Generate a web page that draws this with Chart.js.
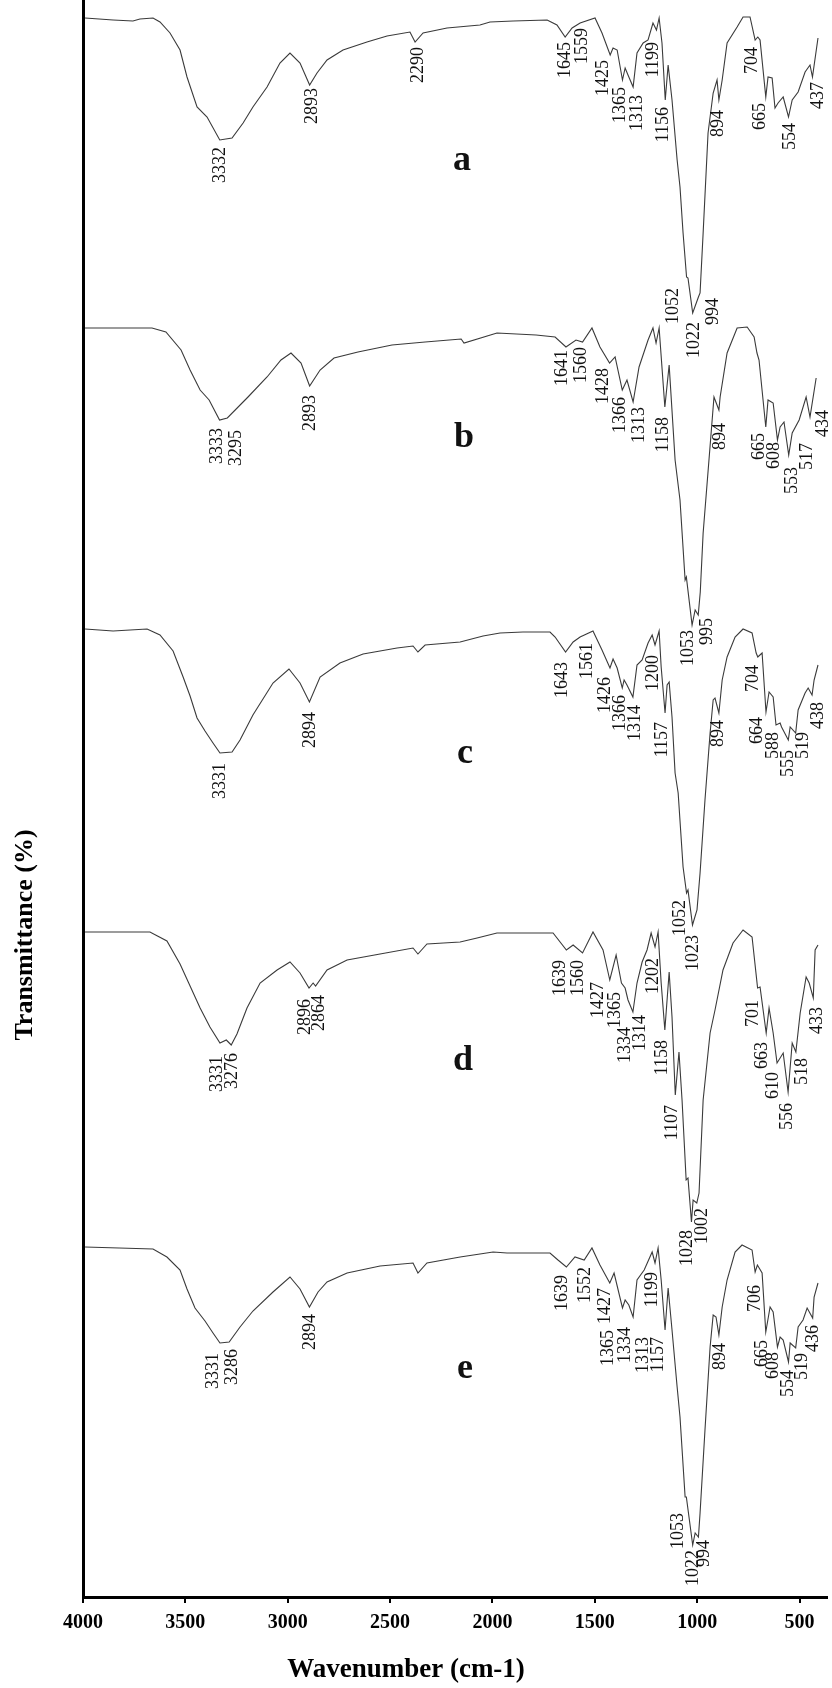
<!DOCTYPE html>
<html>
<head>
<meta charset="utf-8">
<title>FTIR spectra a-e</title>
<script src="https://cdn.jsdelivr.net/npm/chart.js@4.4.1/dist/chart.umd.min.js"></script>
<style>
  html, body { margin: 0; padding: 0; background: #fff; }
  #wrap { width: 832px; height: 1688px; }
</style>
</head>
<body>
<div id="wrap"><canvas id="ftir" width="832" height="1688"></canvas></div>
<script>
// x ticks (cm-1)
const tickValues = [4000, 3500, 3000, 2500, 2000, 1500, 1000, 500];

// spectra as [wavenumber, transmittance] with each trace shifted down for stacking
const spectrumA = [
  [3990,157.9],[3853,157.7],[3756,157.6],[3722,157.8],[3658,157.9],[3624,157.5],[3575,156.4],[3526,154.7],
  [3492,152.0],[3443,149.0],[3394,148.0],[3332,145.7],[3272,145.9],[3218,147.4],[3170,149.0],[3101,151.0],
  [3038,153.4],[2989,154.4],[2940,153.4],[2893,151.2],[2857,152.4],[2808,153.7],[2730,154.7],[2613,155.5],
  [2515,156.1],[2403,156.5],[2378,155.5],[2339,156.4],[2222,156.9],[2061,157.2],[2012,157.5],[1899,157.6],
  [1733,157.7],[1685,157.2],[1645,156.0],[1611,156.9],[1572,157.4],[1499,157.9],[1465,156.4],[1425,154.2],
  [1411,154.9],[1391,154.7],[1365,151.7],[1352,152.9],[1338,152.2],[1313,151.0],[1294,154.4],[1264,155.4],
  [1240,155.7],[1216,157.4],[1199,156.7],[1186,157.9],[1172,155.4],[1156,149.7],[1142,153.2],[1123,149.7],
  [1098,143.7],[1084,141.0],[1069,136.4],[1052,132.0],[1045,131.9],[1022,128.4],[994,130.0],[986,130.4],
  [971,136.4],[947,146.4],[922,150.4],[903,151.7],[894,149.7],[878,151.7],[854,155.4],[805,157.0],
  [776,158.0],[742,158.0],[717,155.7],[704,156.0],[693,155.7],[665,150.0],[654,152.0],[634,151.9],
  [620,148.9],[605,149.4],[580,150.0],[554,148.0],[536,149.7],[507,150.5],[473,152.5],[449,153.2],
  [437,152.0],[410,155.9]
];
const spectrumB = [
  [3990,126.9],[3663,126.9],[3595,126.5],[3521,124.7],[3477,122.7],[3428,120.7],[3384,119.7],[3333,117.7],
  [3295,117.9],[3194,120.0],[3101,122.0],[3033,123.7],[2984,124.4],[2935,123.4],[2893,121.1],[2842,122.7],
  [2774,123.9],[2657,124.5],[2491,125.2],[2329,125.5],[2153,125.8],[2139,125.4],[1978,126.4],[1787,126.2],
  [1694,126.0],[1641,125.0],[1592,125.7],[1560,125.5],[1514,126.9],[1475,125.0],[1428,123.4],[1401,124.0],
  [1366,120.7],[1343,121.7],[1313,119.5],[1284,123.0],[1240,125.7],[1216,126.9],[1201,125.4],[1186,126.9],
  [1158,119.0],[1137,123.2],[1108,113.7],[1084,109.7],[1059,101.7],[1053,102.0],[1025,97.2],[1010,98.7],
  [995,98.2],[985,100.5],[971,106.4],[932,116.4],[918,120.0],[894,118.7],[888,120.0],[854,124.4],
  [805,126.9],[756,127.0],[722,126.0],[708,124.4],[698,123.7],[665,117.0],[654,119.7],[629,119.4],
  [608,115.7],[595,117.0],[576,117.5],[553,114.2],[536,116.4],[502,117.7],[468,120.0],[449,118.0],
  [419,121.9]
];
const spectrumC = [
  [3990,96.8],[3853,96.6],[3687,96.8],[3624,96.2],[3560,94.6],[3511,92.0],[3477,90.1],[3443,87.9],
  [3404,86.6],[3365,85.4],[3331,84.4],[3272,84.5],[3233,85.7],[3170,88.2],[3072,91.4],[2994,92.8],
  [2940,91.4],[2894,89.5],[2842,92.0],[2745,93.4],[2632,94.3],[2466,94.9],[2388,95.1],[2364,94.5],
  [2329,95.2],[2158,95.5],[2046,96.1],[1963,96.4],[1851,96.5],[1719,96.5],[1694,96.0],[1643,94.5],
  [1606,95.5],[1572,96.0],[1509,96.6],[1465,94.7],[1426,92.9],[1411,93.8],[1391,92.9],[1366,90.9],
  [1357,91.7],[1343,91.2],[1314,90.0],[1294,93.2],[1269,93.7],[1240,95.4],[1220,96.2],[1206,95.2],
  [1186,96.6],[1176,93.0],[1157,88.4],[1147,91.2],[1137,91.5],[1123,88.0],[1108,82.4],[1093,80.4],
  [1069,73.0],[1052,70.4],[1045,70.7],[1023,67.2],[1001,68.7],[986,72.4],[962,79.7],[937,86.4],
  [922,89.7],[913,89.9],[894,88.4],[878,91.7],[854,94.0],[815,96.0],[776,96.8],[732,96.4],
  [712,94.4],[704,94.0],[683,94.4],[664,88.5],[649,90.5],[629,90.0],[615,87.2],[595,87.4],
  [588,87.0],[555,85.7],[546,87.0],[519,86.4],[507,88.7],[473,90.4],[458,90.9],[439,90.2],
  [429,91.7],[410,93.2]
];
const spectrumD = [
  [3990,66.5],[3673,66.5],[3590,65.6],[3526,63.3],[3477,61.1],[3428,58.9],[3380,57.0],[3331,55.4],
  [3300,55.7],[3276,55.2],[3248,56.3],[3199,58.9],[3135,61.4],[3052,62.7],[2989,63.5],[2940,62.4],
  [2896,60.9],[2876,61.4],[2864,61.1],[2808,62.7],[2710,63.7],[2549,64.3],[2388,64.9],[2364,64.3],
  [2320,65.3],[2158,65.5],[2075,65.9],[1978,66.4],[1704,66.4],[1639,64.7],[1606,65.2],[1560,64.4],
  [1509,66.5],[1460,64.7],[1427,61.7],[1396,64.2],[1370,61.4],[1352,60.9],[1338,59.7],[1314,58.5],
  [1294,61.4],[1269,63.5],[1245,64.7],[1225,66.4],[1206,65.0],[1191,66.5],[1176,61.4],[1158,56.7],
  [1137,62.5],[1123,58.0],[1107,50.2],[1089,54.5],[1074,49.7],[1054,41.7],[1045,41.9],[1028,37.5],
  [1020,39.7],[1002,39.4],[991,40.4],[971,49.7],[937,56.4],[913,58.7],[874,62.7],[825,65.4],
  [776,66.7],[732,66.0],[705,60.9],[693,61.0],[663,56.4],[649,58.9],[629,56.4],[610,53.4],
  [580,54.4],[556,50.5],[536,55.4],[518,54.5],[497,58.4],[468,62.0],[453,61.4],[433,59.9],
  [424,64.7],[410,65.2]
];
const spectrumE = [
  [3990,35.0],[3658,34.8],[3590,34.0],[3526,32.7],[3492,30.8],[3453,28.9],[3404,27.6],[3365,26.4],
  [3331,25.4],[3286,25.5],[3233,27.0],[3170,28.6],[3072,30.5],[2989,32.0],[2940,30.8],[2894,29.0],
  [2852,30.5],[2808,31.5],[2710,32.4],[2549,33.1],[2388,33.4],[2364,32.4],[2320,33.4],[2158,34.0],
  [2061,34.3],[1997,34.5],[1929,34.4],[1719,34.4],[1680,33.7],[1639,33.0],[1597,34.0],[1552,33.7],
  [1514,34.9],[1475,33.2],[1427,31.4],[1406,32.4],[1365,28.9],[1352,29.7],[1334,29.2],[1313,28.0],
  [1294,31.7],[1259,32.7],[1220,34.5],[1206,33.4],[1191,34.9],[1176,31.7],[1157,26.7],[1142,30.9],
  [1123,26.7],[1098,21.0],[1084,18.0],[1059,10.0],[1053,10.0],[1022,5.2],[1010,6.4],[994,6.0],
  [986,8.4],[962,16.7],[937,25.0],[922,28.2],[908,28.0],[894,26.2],[878,29.0],[854,31.7],
  [815,34.5],[781,35.2],[732,34.7],[717,32.5],[706,33.2],[683,32.4],[665,26.5],[644,29.0],
  [629,28.5],[608,25.0],[595,26.0],[580,25.7],[554,23.5],[546,25.4],[519,24.9],[507,27.0],
  [483,27.7],[463,28.9],[436,27.9],[429,30.0],[410,31.4]
];

// peak labels: [text, wavenumber under which it is centred, top end of the rotated text]
const peaksA = [
  ['3332',3331,145.0],['2893',2881,150.9],['2290',2364,155.0],['1645',1645,155.5],['1559',1562,156.9],
  ['1425',1460,153.7],['1365',1377,151.0],['1313',1294,150.2],['1199',1216,155.5],['1156',1167,149.0],
  ['1052',1118,130.9],['1022',1015,127.5],['994',922,129.9],['894',898,148.7],['704',732,155.0],
  ['665',693,149.4],['554',546,147.4],['437',410,151.5]
];
const peaksB = [
  ['3333',3345,116.9],['3295',3253,116.7],['2893',2891,120.2],['1641',1660,124.7],['1560',1567,125.0],
  ['1428',1460,122.9],['1366',1377,120.0],['1313',1284,119.0],['1158',1167,118.0],['1053',1045,96.7],
  ['995',952,97.9],['894',888,117.4],['665',698,116.4],['608',624,115.5],['553',536,113.0],
  ['517',463,115.4],['434',385,118.7]
];
const peaksC = [
  ['3331',3331,83.4],['2894',2891,88.5],['1643',1660,93.5],['1561',1538,95.4],['1426',1450,92.0],
  ['1366',1377,90.2],['1314',1303,89.2],['1200',1216,94.2],['1157',1172,87.5],['1052',1084,69.7],
  ['1023',1020,66.2],['894',898,87.7],['704',727,93.2],['664',707,88.0],['588',629,86.5],
  ['555',556,84.7],['519',483,86.5],['438',410,89.5]
];
const peaksD = [
  ['3331',3345,54.1],['3276',3272,54.4],['2896',2913,59.8],['2864',2847,60.2],['1639',1670,63.7],
  ['1560',1582,63.7],['1427',1484,61.5],['1365',1401,60.5],['1334',1352,57.0],['1314',1279,58.2],
  ['1202',1216,63.9],['1158',1172,55.7],['1107',1123,49.2],['1028',1049,36.7],['1002',976,38.9],
  ['701',727,59.7],['663',683,55.5],['610',629,52.5],['556',561,49.4],['518',488,53.9],['433',414,59.0]
];
const peaksE = [
  ['3331',3365,24.4],['3286',3272,24.8],['2894',2891,28.3],['1639',1660,32.2],['1552',1548,33.0],
  ['1427',1450,30.9],['1365',1435,26.7],['1334',1352,27.0],['1313',1264,26.0],['1157',1191,26.0],
  ['1199',1220,32.5],['1053',1093,8.4],['1022',1020,4.7],['994',966,5.7],['894',888,25.4],
  ['706',717,31.2],['665',683,25.7],['608',629,24.5],['554',556,22.7],['519',488,24.4],['436',434,27.2]
];

// sample letters and where they sit (baseline)
const sampleNames = ['a', 'b', 'c', 'd', 'e'];
const sampleWn = [2149, 2139, 2134, 2144, 2134];
const sampleT = [142.7, 115.0, 83.4, 52.7, 21.9];

const SERIF = '"Liberation Serif", "Times New Roman", serif';
const spectra = [spectrumA, spectrumB, spectrumC, spectrumD, spectrumE];
const peakSets = [peaksA, peaksB, peaksC, peaksD, peaksE];

const annotate = {
  id: 'annotate',
  afterDatasetsDraw(chart) {
    const { ctx, scales: { x, y } } = chart;
    ctx.save();
    ctx.fillStyle = '#111';

    // peak wavenumbers, rotated to read bottom-up
    ctx.font = '18px ' + SERIF;
    ctx.textAlign = 'right';
    ctx.textBaseline = 'middle';
    peakSets.forEach(set => {
      set.forEach(([txt, wn, top]) => {
        ctx.save();
        ctx.translate(x.getPixelForValue(wn), y.getPixelForValue(top));
        ctx.rotate(-Math.PI / 2);
        ctx.fillText(txt, 0, 0);
        ctx.restore();
      });
    });

    // sample letters
    ctx.font = 'bold 36px ' + SERIF;
    ctx.textAlign = 'center';
    ctx.textBaseline = 'alphabetic';
    sampleNames.forEach((s, i) => {
      ctx.fillText(s, x.getPixelForValue(sampleWn[i]), y.getPixelForValue(sampleT[i]));
    });

    // axis titles
    ctx.fillStyle = '#000';
    ctx.textBaseline = 'middle';
    ctx.font = 'bold 27px ' + SERIF;
    ctx.fillText('Wavenumber (cm-1)', 406, 1670);
    ctx.save();
    ctx.translate(25, 935);
    ctx.rotate(-Math.PI / 2);
    ctx.font = 'bold 26px ' + SERIF;
    ctx.fillText('Transmittance (%)', 0, 0);
    ctx.restore();

    ctx.restore();
  }
};

new Chart(document.getElementById('ftir'), {
  type: 'line',
  data: {
    datasets: spectra.map((s, i) => ({
      label: sampleNames[i],
      data: s.map(([w, t]) => ({ x: w, y: t })),
      borderColor: '#3a3a3a',
      borderWidth: 1.1,
      pointRadius: 0,
      fill: false,
      tension: 0
    }))
  },
  options: {
    responsive: false,
    animation: false,
    devicePixelRatio: 1,
    layout: { padding: { left: 0, right: 5, top: 0, bottom: 0 } },
    plugins: {
      legend: { display: false },
      tooltip: { enabled: false }
    },
    scales: {
      x: {
        type: 'linear',
        reverse: true,
        min: 366,
        max: 4000,
        afterBuildTicks: s => { s.ticks = tickValues.map(v => ({ value: v })); },
        afterFit: s => { s.height = 91; },
        ticks: {
          color: '#000',
          padding: 8,
          maxRotation: 0,
          autoSkip: false,
          callback: v => String(v),
          font: { family: SERIF, size: 20, weight: 'bold' }
        },
        grid: { display: true, drawOnChartArea: false, drawTicks: true, tickLength: 6, lineWidth: 2, color: '#000' },
        border: { display: true, width: 3, color: '#000' }
      },
      y: {
        min: 0,
        max: 159.7,
        afterFit: s => { s.width = 83; },
        ticks: { display: false },
        grid: { display: false, drawTicks: false },
        border: { display: true, width: 3, color: '#000' }
      }
    }
  },
  plugins: [annotate]
});
</script>
</body>
</html>
